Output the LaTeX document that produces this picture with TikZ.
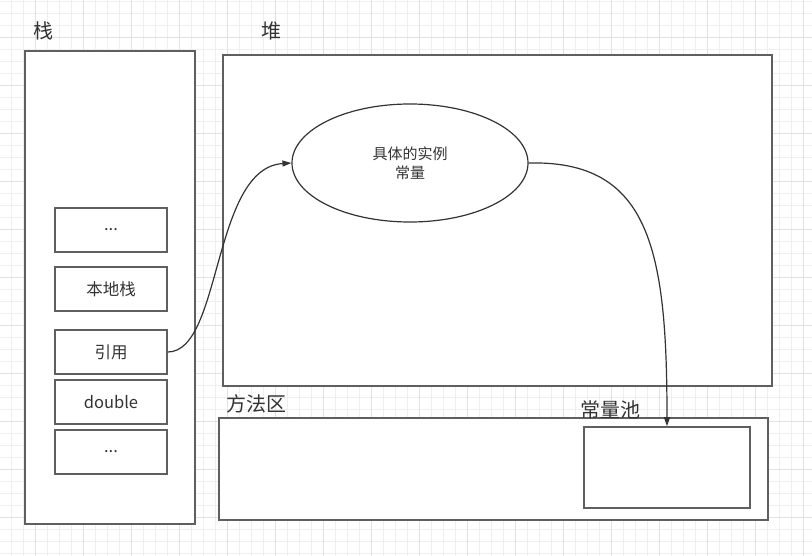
\documentclass[tikz,border=0pt]{standalone}
\usepackage{fontspec}
\setmainfont{Noto Sans CJK SC}
\usetikzlibrary{shapes.geometric,arrows.meta}
\definecolor{gridminor}{HTML}{EFEFEF}
\definecolor{gridmajor}{HTML}{E2E2E2}
\definecolor{boxline}{HTML}{5F5F5F}
\definecolor{arrowline}{HTML}{333333}
\definecolor{labeltext}{HTML}{333333}

\begin{document}
\begin{tikzpicture}[x=1pt,y=-1pt,
  area/.style={draw=boxline,line width=1.6pt,fill=white},
  slot/.style={draw=boxline,line width=1.6pt,fill=white,minimum width=112pt,minimum height=44pt,text=labeltext,font=\fontsize{16.5}{18}\selectfont,inner sep=0pt},
  title/.style={text=labeltext,font=\fontsize{20}{22}\selectfont,inner sep=0pt},
  link/.style={draw=arrowline,line width=1.2pt,-{Triangle[length=9pt,width=6pt]}}]
\useasboundingbox (0,0) rectangle (812,556);
\fill[white] (0,0) rectangle (812,556);
% background grid
\foreach \gx in {11,23,...,811} \draw[gridminor,line width=0.8pt] (\gx,0) -- (\gx,556);
\foreach \gy in {1,13,...,555} \draw[gridminor,line width=0.8pt] (0,\gy) -- (812,\gy);
\foreach \gx in {35,83,...,811} \draw[gridmajor,line width=0.9pt] (\gx,0) -- (\gx,556);
\foreach \gy in {37,85,...,555} \draw[gridmajor,line width=0.9pt] (0,\gy) -- (812,\gy);

% stack
\draw[area] (25,51) rectangle (195,524);
\node[title] (stacklabel) at (44,31) {栈};
\node[slot] (dots1) at (111,230) {\raisebox{-2pt}{...}};
\node[slot] (native) at (111,289) {本地栈};
\node[slot] (ref) at (111,352) {引用};
\node[slot] (dbl) at (111,402) {double};
\node[slot] (dots2) at (111,452) {\raisebox{-2pt}{...}};

% heap
\draw[area] (223,55) rectangle (772,386);
\node[title] (heaplabel) at (271,31) {堆};
\node[draw=arrowline,line width=1.2pt,ellipse,minimum width=236pt,minimum height=118pt,inner sep=0pt,fill=white,
  align=center,text=labeltext,font=\fontsize{15}{19}\selectfont] (inst) at (410,163) {具体的实例\\常量};

% method area
\draw[area] (219,418) rectangle (768,520);
\node[title] (methodlabel) at (256,404) {方法区};
\node[draw=boxline,line width=1.6pt,fill=white,minimum width=166pt,minimum height=81pt,inner sep=0pt] (pool) at (667,467.5) {};
\node[title] (poollabel) at (610,410) {常量池};

% links
\draw[link] (ref.east) .. controls (222,352) and (212,168) .. (inst.west);
\draw[link] (inst.east) .. controls (650,160) and (667,250) .. (pool.north);
\end{tikzpicture}
\end{document}
